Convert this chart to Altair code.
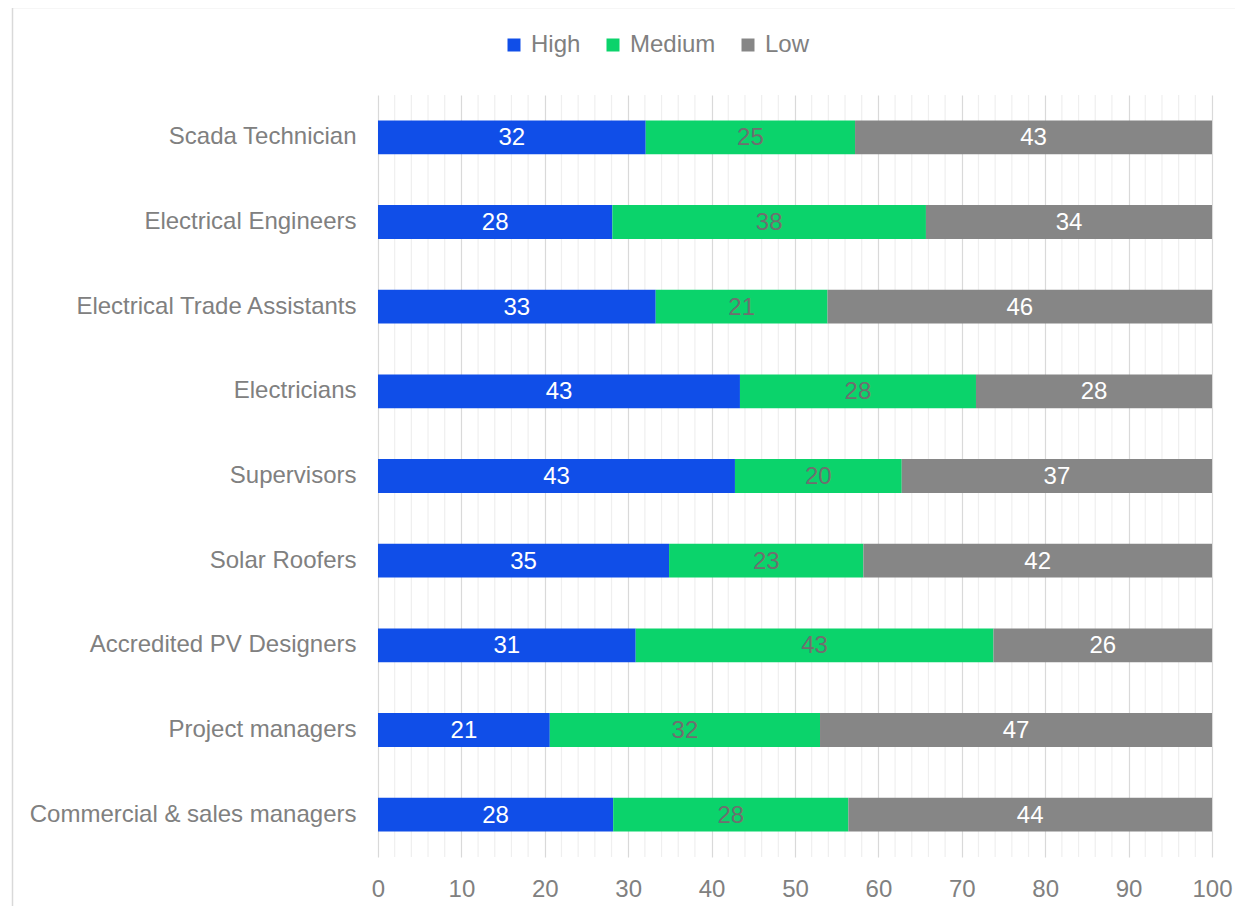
import altair as alt
import pandas as pd

roles = ["Scada Technician", "Electrical Engineers", "Electrical Trade Assistants",
         "Electricians", "Supervisors", "Solar Roofers", "Accredited PV Designers",
         "Project managers", "Commercial & sales managers"]
high = [32.1, 28.1, 33.3, 43.4, 42.8, 34.9, 30.9, 20.6, 28.2]
medium = [25.1, 37.6, 20.6, 28.3, 20.0, 23.3, 42.9, 32.4, 28.2]
low = [42.8, 34.3, 46.1, 28.3, 37.2, 41.8, 26.2, 47.0, 43.6]
levels = ["High", "Medium", "Low"]
colors = ["#104EE8", "#0BD36B", "#868686"]
label_colors = ["#ffffff", "#6f6f6f", "#ffffff"]
major_ticks = list(range(0, 101, 10))
minor_ticks = [v for v in range(0, 101, 2) if v % 10 != 0]

rows = []
for i, r in enumerate(roles):
    for j, (lvl, vals) in enumerate(zip(levels, [high, medium, low])):
        rows.append({"role": r, "level": lvl, "order": j, "value": vals[i],
                     "lcolor": label_colors[j]})
df = pd.DataFrame(rows)

FONT = "Liberation Sans"
GRAY = "#808080"
FS = 24

xscale = alt.Scale(domain=[0, 100], nice=False)
x_axis = alt.Axis(values=major_ticks, domain=False, ticks=False, labelOverlap=False,
                  labelFlush=False,
                  labelFont=FONT, labelFontSize=FS, labelColor=GRAY,
                  labelPadding=20, grid=True, gridColor="#d9d9d9", gridWidth=1.2)

base = alt.Chart(df).transform_stack(
    stack="value", as_=["v0", "v1"], groupby=["role"],
    sort=[alt.SortField("order", order="ascending")]
).transform_calculate(mid="(datum.v0 + datum.v1) / 2")

y_enc = alt.Y("role:N", sort=roles, title=None,
              scale=alt.Scale(paddingInner=0.6, paddingOuter=0.3),
              axis=alt.Axis(domain=False, ticks=False, labelFont=FONT, labelFontSize=FS,
                            labelColor=GRAY, labelPadding=22, labelLimit=400))

minor = alt.Chart(pd.DataFrame({"v": minor_ticks})).mark_rule(
    color="#efefef", strokeWidth=1.2
).encode(x=alt.X("v:Q", scale=xscale, axis=x_axis, title=None),
         y=alt.value(0), y2=alt.value(762))

bars = base.mark_bar().encode(
    x=alt.X("v0:Q", title=None, scale=xscale, axis=x_axis),
    x2="v1:Q",
    y=y_enc,
    color=alt.Color("level:N", sort=levels,
                    scale=alt.Scale(domain=levels, range=colors),
                    legend=alt.Legend(title=None, orient="none", direction="horizontal",
                                      legendX=124, legendY=-62, symbolType="square",
                                      symbolSize=169, symbolStrokeWidth=0,
                                      labelFont=FONT, labelFontSize=FS, labelColor=GRAY,
                                      labelOffset=5, columnPadding=20)),
)

texts = base.mark_text(font=FONT, fontSize=FS, baseline="middle", align="center", dy=1).encode(
    x=alt.X("mid:Q", scale=xscale, axis=x_axis, title=None),
    y=alt.Y("role:N", sort=roles),
    text=alt.Text("value:Q", format=".0f"),
    color=alt.Color("lcolor:N", scale=None),
)

border = alt.Chart(pd.DataFrame({"a": [0]})).mark_rect(
    fill=None, stroke="#d9d9d9", strokeWidth=1.5
).encode(x=alt.value(-365.5), x2=alt.value(960), y=alt.value(-87.5), y2=alt.value(960))

chart = alt.layer(border, minor, bars, texts).properties(
    width=834, height=762,
    autosize=alt.AutoSizeParams(type="none"),
    padding={"left": 370, "top": 87, "right": 23, "bottom": 49},
).configure_view(stroke=None)

chart.save("out.html", embed_options={"renderer": "svg", "actions": False})
